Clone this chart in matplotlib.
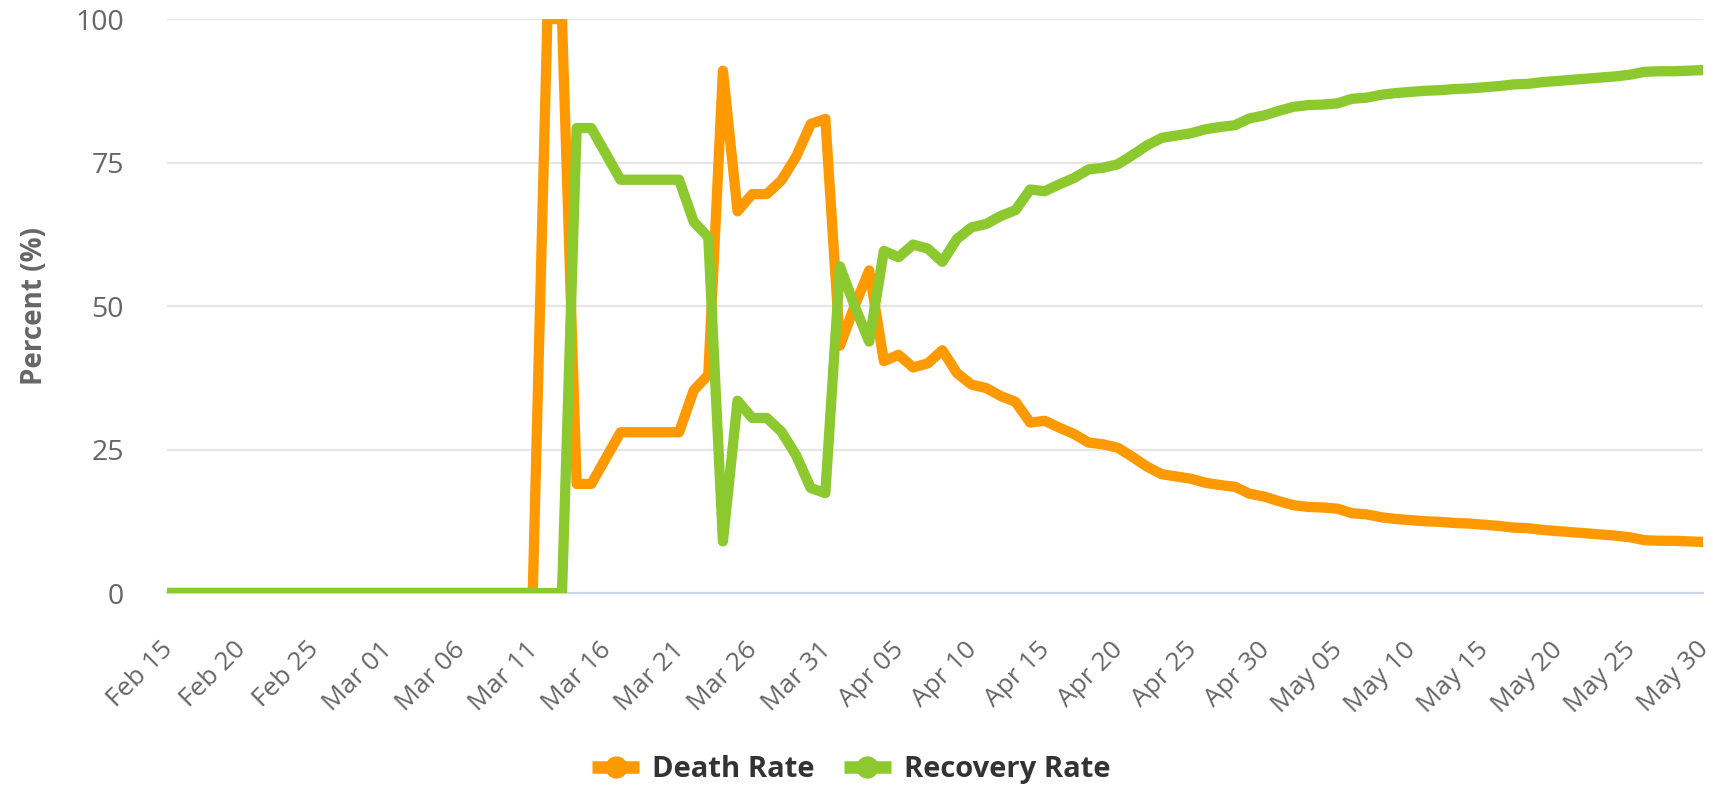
import matplotlib
matplotlib.use("Agg")
import matplotlib.pyplot as plt
import matplotlib.transforms as mtransforms
from matplotlib.lines import Line2D
import pandas as pd

plt.rcParams['font.family'] = ['Open Sans', 'DejaVu Sans']

dates = pd.date_range('2020-02-15', '2020-05-30', freq='D')

death_rate = [0] * 26 + [
    100, 100, 19, 19, 23.5, 28, 28, 28, 28, 28,
    35.3, 38, 91, 66.5, 69.5, 69.5, 71.9, 76, 81.7, 82.6,
    43.1, 50, 56.2, 40.4, 41.5, 39.3, 40, 42.3, 38.3, 36.3,
    35.7, 34.3, 33.3, 29.7, 30, 28.8, 27.7, 26.2, 25.9, 25.3,
    23.7, 22, 20.7, 20.3, 19.9, 19.2, 18.8, 18.5, 17.3, 16.8,
    16, 15.3, 15, 14.9, 14.7, 13.9, 13.7, 13.2, 12.9, 12.7,
    12.5, 12.4, 12.2, 12.1, 11.9, 11.7, 11.4, 11.3, 11, 10.8,
    10.6, 10.4, 10.2, 10, 9.7, 9.2, 9.1, 9.1, 9, 8.9,
]
recovery_rate = [0] * 28 + [
    81, 81, 76.5, 72, 72, 72, 72, 72,
    64.7, 62, 9, 33.5, 30.5, 30.5, 28.1, 24, 18.3, 17.4,
    56.9, 50, 43.8, 59.6, 58.5, 60.7, 60, 57.7, 61.7, 63.7,
    64.3, 65.7, 66.7, 70.3, 70, 71.2, 72.3, 73.8, 74.1, 74.7,
    76.3, 78, 79.3, 79.7, 80.1, 80.8, 81.2, 81.5, 82.7, 83.2,
    84, 84.7, 85, 85.1, 85.3, 86.1, 86.3, 86.8, 87.1, 87.3,
    87.5, 87.6, 87.8, 87.9, 88.1, 88.3, 88.6, 88.7, 89, 89.2,
    89.4, 89.6, 89.8, 90, 90.3, 90.8, 90.9, 90.9, 91, 91.1,
]
y_ticks = [0, 25, 50, 75, 100]

orange = '#ff9900'
green = '#8bc92e'
x = list(range(len(dates)))

fig = plt.figure(figsize=(17.13, 7.89), dpi=100)
ax = fig.add_axes([0.0975, 0.2484, 0.8967, 0.7275])

ax.plot(x, death_rate, color=orange, lw=7.4, solid_joinstyle='round', solid_capstyle='round', zorder=3)
ax.plot(x, recovery_rate, color=green, lw=7.4, solid_joinstyle='round', solid_capstyle='round', zorder=3)

ax.set_xlim(0, len(dates) - 1)
ax.set_ylim(0, 100)
ax.set_yticks(y_ticks)
ax.set_yticklabels([str(v) for v in y_ticks])
ax.grid(axis='y', color='#e6e6e6', lw=1.6)
ax.set_axisbelow(True)

# date labels drawn by hand so they can be nudged like the original
tick_pos = x[::5]
ax.set_xticks(tick_pos)
ax.set_xticklabels([])
off = mtransforms.ScaledTranslation(-0.07, -0.44, fig.dpi_scale_trans)
for i in tick_pos:
    ax.text(i, 0, dates[i].strftime('%b %d'), transform=ax.get_xaxis_transform() + off,
            rotation=45, ha='right', va='top', rotation_mode='anchor',
            fontsize=19, color='#666666')

for s in ['left', 'right', 'top']:
    ax.spines[s].set_visible(False)
ax.spines['bottom'].set_color('#ccd6eb')
ax.spines['bottom'].set_linewidth(1.5)
ax.tick_params(axis='x', length=0)
ax.tick_params(axis='y', length=0, pad=31, labelsize=20.5, labelcolor='#666666')

ax.set_ylabel('Percent (%)', fontsize=20, color='#666666', fontweight='bold')
ax.yaxis.set_label_coords(-0.077, 0.5)

handles = [
    Line2D([], [], color=orange, lw=9, marker='o', markersize=15, solid_capstyle='butt'),
    Line2D([], [], color=green, lw=9, marker='o', markersize=15, solid_capstyle='butt'),
]
leg = fig.legend(handles, ['Death Rate', 'Recovery Rate'], loc='center',
                 bbox_to_anchor=(0.497, 0.025), ncol=2, frameon=False,
                 prop={'size': 21, 'weight': 'bold'}, handlelength=1.6,
                 columnspacing=1.0, handletextpad=0.45, borderpad=0)
for t in leg.get_texts():
    t.set_color('#333333')

fig.savefig('out.png', dpi=100)
